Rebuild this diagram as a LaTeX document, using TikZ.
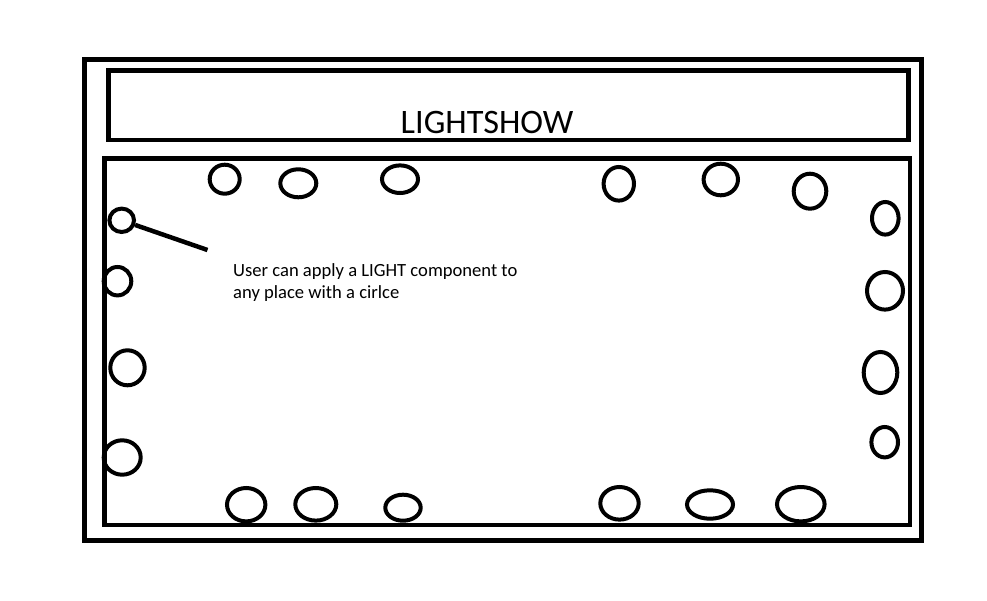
\documentclass[tikz,border=0pt]{standalone}
\usepackage{fontspec}
\setmainfont{Carlito}
\usetikzlibrary{shapes.geometric}
\tikzset{
  frame/.style={draw=black, line width=5pt},
  panel/.style={draw=black, line width=4.7pt},
  lamp/.style={draw=black, ellipse, line width=4pt, inner sep=0pt, fill=none},
  pointer/.style={draw=black, line width=4.5pt},
  note/.style={anchor=base west, inner sep=0pt, font=\fontsize{18.6}{21.8}\selectfont},
  titletext/.style={anchor=base west, inner sep=0pt, font=\fontsize{34.3}{40}\selectfont}
}
\begin{document}
\begin{tikzpicture}[x=1pt,y=-1pt]
\fill[white] (0,0) rectangle (987,601);
\useasboundingbox (0,0) rectangle (987,601);
% frames
\draw[frame] (84.2,59.2) rectangle (921.7,540);
\draw[panel] (108.3,70.8) rectangle (908.3,140);
\draw[panel] (104.3,158.3) rectangle (910,525);
% title
\node[titletext] (title) at (400.5,133.3) {LIGHTSHOW};
% top lamps
\node[lamp, minimum width=30pt, minimum height=29pt] (t1) at (224.7,179.2) {};
\node[lamp, minimum width=36pt, minimum height=28pt] (t2) at (298.3,183.3) {};
\node[lamp, minimum width=36pt, minimum height=27.6pt] (t3) at (400,179.2) {};
\node[lamp, minimum width=30.4pt, minimum height=33.6pt] (t4) at (618.8,183.8) {};
\node[lamp, minimum width=34.4pt, minimum height=31.6pt] (t5) at (720.8,179.5) {};
\node[lamp, minimum width=32.6pt, minimum height=35pt] (t6) at (810,191.2) {};
% left lamps
\node[lamp, minimum width=24.6pt, minimum height=23.4pt] (l1) at (121.7,220.3) {};
\node[lamp, minimum width=27.6pt, minimum height=28.4pt] (l2) at (117.5,281.2) {};
\node[lamp, minimum width=34.4pt, minimum height=35pt] (l3) at (127.5,367.8) {};
\node[lamp, minimum width=37pt, minimum height=34.4pt] (l4) at (122.2,457.5) {};
% right lamps
\node[lamp, minimum width=26.6pt, minimum height=32.6pt] (r1) at (885.3,218.3) {};
\node[lamp, minimum width=36pt, minimum height=37.6pt] (r2) at (885,290.8) {};
\node[lamp, minimum width=33.6pt, minimum height=41pt] (r3) at (880.5,372.5) {};
\node[lamp, minimum width=26.6pt, minimum height=30.4pt] (r4) at (884.7,442.2) {};
% bottom lamps
\node[lamp, minimum width=38.4pt, minimum height=33.4pt] (b1) at (246.2,504.7) {};
\node[lamp, minimum width=41pt, minimum height=32.6pt] (b2) at (315.8,504.3) {};
\node[lamp, minimum width=35.4pt, minimum height=26pt] (b3) at (403,507.7) {};
\node[lamp, minimum width=38.4pt, minimum height=32.6pt] (b4) at (619.5,503.3) {};
\node[lamp, minimum width=46pt, minimum height=28.4pt] (b5) at (710,504.5) {};
\node[lamp, minimum width=47.6pt, minimum height=34.4pt] (b6) at (800.8,504.2) {};
% annotation
\coordinate (tip) at (207.5,250);
\draw[pointer] (l1) -- (tip);
\node[note] (note1) at (233,276.7) {User can apply a LIGHT component to};
\node[note] (note2) at (233,298.5) {any place with a cirlce};
\end{tikzpicture}
\end{document}
